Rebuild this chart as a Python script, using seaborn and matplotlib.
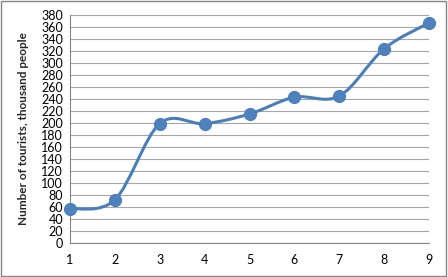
import numpy as np
import pandas as pd
import matplotlib
matplotlib.use("Agg")
import matplotlib.pyplot as plt
from matplotlib.path import Path
from matplotlib.patches import PathPatch, Rectangle
import seaborn as sns

years = [1, 2, 3, 4, 5, 6, 7, 8, 9]
tourists = [57, 72, 199, 199, 215, 243, 245, 324, 367]
y_ticks = list(range(0, 381, 20))
y_label = "Number of tourists, thousand people"

sns.set_theme(style="white")
plt.rcParams['font.family'] = ['Lato', 'DejaVu Sans']

df = pd.DataFrame({"x": years, "y": tourists})
blue = "#4A7EBB"

fig = plt.figure(figsize=(4.48, 2.77), dpi=100)
ax = fig.add_axes([0.156, 0.1227, 0.802, 0.823])

# smooth line (Catmull-Rom style Bezier, like Excel's smoothed line)
xs = np.array(years, float)
ys = np.array(tourists, float)
n = len(xs)
verts = [(xs[0], ys[0])]
codes = [Path.MOVETO]
for i in range(n - 1):
    p0 = np.array([xs[max(i - 1, 0)], ys[max(i - 1, 0)]])
    p1 = np.array([xs[i], ys[i]])
    p2 = np.array([xs[i + 1], ys[i + 1]])
    p3 = np.array([xs[min(i + 2, n - 1)], ys[min(i + 2, n - 1)]])
    c1 = p1 + (p2 - p0) / 6.0
    c2 = p2 - (p3 - p1) / 6.0
    verts += [tuple(c1), tuple(c2), tuple(p2)]
    codes += [Path.CURVE4] * 3
ax.add_patch(PathPatch(Path(verts, codes), facecolor="none", edgecolor=blue,
                       lw=2.2, zorder=3, capstyle="round", joinstyle="round"))

sns.scatterplot(data=df, x="x", y="y", ax=ax, s=75, color="#4F81BD",
                edgecolor="#4A7EBB", linewidth=0.8, zorder=4, clip_on=False)

ax.set_xlim(1, 9)
ax.set_ylim(0, 380)
ax.set_xticks(years)
ax.set_yticks(y_ticks)
ax.set_xticklabels([str(v) for v in years])
ax.set_yticklabels([str(v) for v in y_ticks])
ax.tick_params(axis="both", labelsize=9, colors="#868686", labelcolor="#000000",
               length=4, width=0.8, direction="out")
ax.tick_params(axis="y", pad=1)
ax.tick_params(axis="x", pad=4)
ax.yaxis.grid(True, color="#A6A6A6", lw=0.8)
ax.xaxis.grid(False)
ax.set_axisbelow(True)
for s in ["top", "right"]:
    ax.spines[s].set_visible(False)
for s in ["left", "bottom"]:
    ax.spines[s].set_color("#868686")
    ax.spines[s].set_linewidth(0.8)
ax.set_xlabel("")
ax.set_ylabel(y_label, fontsize=8.5, fontweight="bold", labelpad=9)

fig.patches.append(Rectangle((0.002, 0.003), 0.994, 0.993, transform=fig.transFigure,
                             fill=False, edgecolor="#868686", lw=1.0))

fig.savefig("out.png", dpi=100)
